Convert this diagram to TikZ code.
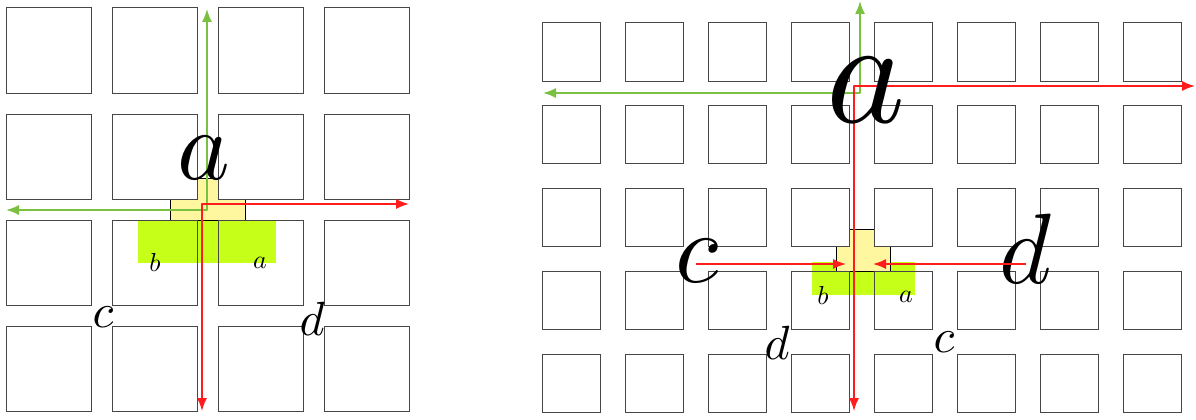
\documentclass[tikz,border=0pt]{standalone}
\usepackage{graphicx}
\usetikzlibrary{arrows.meta}
\definecolor{gridc}{RGB}{70,70,70}
\definecolor{arrred}{RGB}{255,28,28}
\definecolor{arrgreen}{RGB}{122,193,66}
\definecolor{tyellow}{RGB}{255,246,160}
\definecolor{limec}{RGB}{198,255,24}
\tikzset{
  sq/.style={draw=gridc,line width=1pt},
  tshape/.style={fill=tyellow,draw=black,line width=0.9pt},
  limebox/.style={fill=limec,draw=none},
  redline/.style={draw=arrred,line width=1.6pt,line join=round},
  greenline/.style={draw=arrgreen,line width=1.6pt,line join=round},
  tipboth/.style={arrows={Latex[length=13pt,width=10pt]-Latex[length=13pt,width=10pt]}},
  tipend/.style={arrows={-Latex[length=13pt,width=10pt]}},
  lbl/.style={anchor=base,inner sep=0pt,outer sep=0pt},
}
\newcommand{\mlet}[2]{\scalebox{#1}{$#2$}}
\begin{document}
\begin{tikzpicture}[x=1pt,y=-1pt]
\useasboundingbox (0,0) rectangle (1196,420);
% ---------- left panel ----------
\fill[limebox] (138,220) rectangle (276,263);
\draw[tshape] (170,220) -- (170,199) -- (197,199) -- (197,178) -- (218,178) -- (218,199) -- (245,199) -- (245,220) -- cycle;
\foreach \i in {0,...,3}
  \foreach \j in {0,...,3}
    \draw[sq] ({6+106*\i},{8+106*\j}) rectangle ++(85,85);
\coordinate (gLl) at (6,210);
\coordinate (gLc) at (207,210);
\coordinate (gLu) at (207,9);
\coordinate (rLr) at (409,204);
\coordinate (rLc) at (202,204);
\coordinate (rLd) at (202,411);
\draw[greenline,tipboth] (gLl) -- (gLc) -- (gLu);
\draw[redline,tipboth] (rLr) -- (rLc) -- (rLd);
\node[lbl] (aL) at (204,179) {\mlet{10}{a}};
\node[lbl] (cL) at (103,327) {\mlet{4.8}{c}};
\node[lbl] (dL) at (312,335) {\mlet{4.8}{d}};
\node[lbl] (bLs) at (155,271) {\mlet{2.6}{b}};
\node[lbl] (aLs) at (260,268) {\mlet{2.6}{a}};
% ---------- right panel ----------
\fill[limebox] (812,262) rectangle (915,295);
\draw[tshape] (836,271.25) -- (836,246.5) -- (849,246.5) -- (849,229) -- (874,229) -- (874,246.5) -- (890,246.5) -- (890,271.25) -- cycle;
\foreach \i in {0,...,7}
  \foreach \j in {0,...,4}
    \draw[sq] ({542+83*\i},{23+82.75*\j}) rectangle ++(58.5,58);
\coordinate (gRl) at (543,93);
\coordinate (gRc) at (860,93);
\coordinate (gRu) at (860,1);
\coordinate (rRr) at (1195,86);
\coordinate (rRc) at (854,86);
\coordinate (rRd) at (854,411);
\draw[greenline,tipboth] (gRl) -- (gRc) -- (gRu);
\draw[redline,tipboth] (rRr) -- (rRc) -- (rRd);
\node[lbl] (aR) at (866,122) {\mlet{15}{a}};
\node[lbl] (cR) at (697,282) {\mlet{10}{c}};
\node[lbl] (dR) at (1026,283) {\mlet{10}{d}};
\node[lbl] (bRs) at (823,304) {\mlet{2.6}{b}};
\node[lbl] (aRs) at (906,302) {\mlet{2.6}{a}};
\node[lbl] (dRm) at (777,359) {\mlet{4.8}{d}};
\node[lbl] (cRm) at (944,352) {\mlet{4.8}{c}};
\coordinate (cRs) at (696,264);
\coordinate (cRe) at (846,264);
\coordinate (dRs) at (1026,264);
\coordinate (dRe) at (873,264);
\draw[redline,tipend] (cRs) -- (cRe);
\draw[redline,tipend] (dRs) -- (dRe);
% redraw big letters on top
\end{tikzpicture}
\end{document}
